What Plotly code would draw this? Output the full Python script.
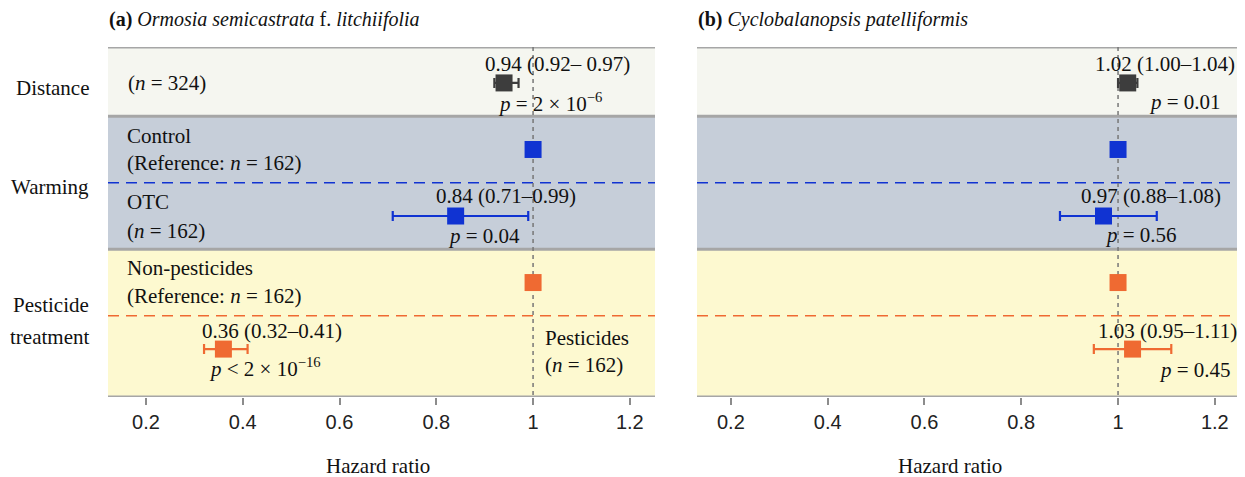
import plotly.graph_objects as go

# ---------------- data ----------------
rows = [1, 2, 3, 4, 5]
groups = ["Distance", "Warming", "Warming", "Pesticide", "Pesticide"]
a_hr = [0.94, 1.00, 0.84, 1.00, 0.36]
a_lo = [0.92, None, 0.71, None, 0.32]
a_hi = [0.97, None, 0.99, None, 0.41]
b_hr = [1.02, 1.00, 0.97, 1.00, 1.03]
b_lo = [1.00, None, 0.88, None, 0.95]
b_hi = [1.04, None, 1.08, None, 1.11]
tick_vals = [0.2, 0.4, 0.6, 0.8, 1.0, 1.2]
tick_text = ["0.2", "0.4", "0.6", "0.8", "1", "1.2"]

SERIF = "Liberation Serif, Times New Roman, serif"
SANS = "Liberation Sans, Arial, sans-serif"
C_DIST = "#3d3d3d"
C_BLUE = "#1033d2"
C_ORNG = "#ef6a32"
group_colors = {"Distance": C_DIST, "Warming": C_BLUE, "Pesticide": C_ORNG}

# page has an 8px body margin: figure occupies the window minus that offset
OFF = 8
W, H = 1245 - OFF, 477 - OFF


def px(x):
    return (x - OFF) / W


def py(y):
    return 1 - (y - OFF) / H


fig = go.Figure()


def add_panel(hr, lo, hi, xa, ya):
    for g, col in group_colors.items():
        idx = [i for i, gg in enumerate(groups) if gg == g]
        xs = [hr[i] for i in idx]
        ys = [rows[i] for i in idx]
        plus = [(hi[i] - hr[i]) if hi[i] is not None else 0 for i in idx]
        minus = [(hr[i] - lo[i]) if lo[i] is not None else 0 for i in idx]
        fig.add_trace(go.Scatter(
            x=xs, y=ys, mode="markers", xaxis=xa, yaxis=ya,
            marker=dict(symbol="square", size=17, color=col, line=dict(width=0)),
            error_x=dict(type="data", symmetric=False, array=plus, arrayminus=minus,
                         color=col, thickness=2.2, width=5, visible=True),
            showlegend=False, hoverinfo="skip"))


add_panel(a_hr, a_lo, a_hi, "x", "y")
add_panel(b_hr, b_lo, b_hi, "x2", "y2")

YR = [5.72, 0.46]
XR_A = [0.1215, 1.252]
XR_B = [0.13, 1.252]

axis_common = dict(tickmode="array", tickvals=tick_vals, ticktext=tick_text,
                   ticks="outside", ticklen=7, tickwidth=1.5, tickcolor="#8c8c8c",
                   showgrid=False, zeroline=False, showline=False,
                   tickfont=dict(family=SANS, size=20, color="#222"))
yaxis_common = dict(range=YR, showticklabels=False, showgrid=False, zeroline=False,
                    showline=False, ticks="")

fig.update_layout(
    width=W, height=H,
    margin=dict(l=0, r=0, t=0, b=0),
    paper_bgcolor="white", plot_bgcolor="white",
    xaxis=dict(domain=[px(108), px(655)], range=XR_A, anchor="y", **axis_common),
    xaxis2=dict(domain=[px(697), px(1240)], range=XR_B, anchor="y2", **axis_common),
    yaxis=dict(domain=[py(397), py(47)], anchor="x", **yaxis_common),
    yaxis2=dict(domain=[py(397), py(47)], anchor="x2", **yaxis_common),
)

shapes = []
bands = [(0.46, 1.5, "#f5f6f0"), (1.5, 3.5, "#c6ced9"), (3.5, 5.72, "#fdf9d0")]
for xr, yr in [("x", "y"), ("x2", "y2")]:
    for y0, y1, c in bands:
        shapes.append(dict(type="rect", xref=f"{xr} domain", yref=yr, x0=0, x1=1,
                           y0=y0, y1=y1, fillcolor=c, line=dict(width=0), layer="below"))
    shapes.append(dict(type="line", xref=f"{xr} domain", yref=yr, x0=0, x1=1, y0=2.5, y1=2.5,
                       line=dict(color=C_BLUE, width=1.5, dash="11px,7px"), layer="below"))
    shapes.append(dict(type="line", xref=f"{xr} domain", yref=yr, x0=0, x1=1, y0=4.5, y1=4.5,
                       line=dict(color=C_ORNG, width=1.5, dash="11px,7px"), layer="below"))
    shapes.append(dict(type="line", xref=xr, yref=yr, x0=1, x1=1, y0=0.46, y1=5.72,
                       line=dict(color="#777777", width=1.5, dash="4px,4px"), layer="below"))
    for yv in [0.46, 1.5, 3.5, 5.72]:
        shapes.append(dict(type="line", xref=f"{xr} domain", yref=yr, x0=0, x1=1, y0=yv, y1=yv,
                           line=dict(color="#a6a6a6", width=3), layer="below"))
fig.update_layout(shapes=shapes)

ann = []
FS = 21


def T(text, x, y, xr="x", yr="y", xanchor="center", size=FS):
    ann.append(dict(text=text, x=x, y=y, xref=xr, yref=yr, xanchor=xanchor, yanchor="middle",
                    showarrow=False, font=dict(family=SERIF, size=size, color="#111")))


# titles
T("<b>(a)</b> <i>Ormosia semicastrata</i> f. <i>litchiifolia</i>", px(107), py(20),
  "paper", "paper", "left", 20)
T("<b>(b)</b> <i>Cyclobalanopsis patelliformis</i>", px(696), py(20),
  "paper", "paper", "left", 20)

# left group labels (right-aligned)
T("Distance", px(91), 1.07, "paper", "y", "right")
T("Warming", px(91), 2.57, "paper", "y", "right")
T("Pesticide", px(91), 4.34, "paper", "y", "right")
T("treatment", px(91), 4.82, "paper", "y", "right")

# panel a
T("(<i>n</i> = 324)", 0.158, 1.0, xanchor="left")
T("0.94 (0.92– 0.97)", 1.051, 0.716)
T("<i>p</i> = 2 × 10<sup>−6</sup>", 1.035, 1.287)
T("Control", 0.1566, 1.798, xanchor="left")
T("(Reference: <i>n</i> = 162)", 0.1566, 2.204, xanchor="left")
T("OTC", 0.1566, 2.79, xanchor="left")
T("(<i>n</i> = 162)", 0.1566, 3.227, xanchor="left")
T("0.84 (0.71–0.99)", 0.944, 2.70)
T("<i>p</i> = 0.04", 0.898, 3.302)
T("Non-pesticides", 0.1566, 3.783, xanchor="left")
T("(Reference: <i>n</i> = 162)", 0.1566, 4.204, xanchor="left")
T("0.36 (0.32–0.41)", 0.460, 4.73)
T("<i>p</i> < 2 × 10<sup>−16</sup>", 0.446, 5.27)
T("Pesticides", 1.020, 4.836, xanchor="left")
T("(<i>n</i> = 162)", 1.020, 5.24, xanchor="left")

# panel b
T("1.02 (1.00–1.04)", 1.245, 0.716, "x2", "y2", "right")
T("<i>p</i> = 0.01", 1.2165, 1.287, "x2", "y2", "right")
T("0.97 (0.88–1.08)", 1.068, 2.70, "x2", "y2")
T("<i>p</i> = 0.56", 1.047, 3.287, "x2", "y2")
T("1.03 (0.95–1.11)", 1.103, 4.73, "x2", "y2")
T("<i>p</i> = 0.45", 1.159, 5.317, "x2", "y2")

# axis titles
T("Hazard ratio", px(378), py(466), "paper", "paper", "center", 21)
T("Hazard ratio", px(950), py(466), "paper", "paper", "center", 21)

fig.update_layout(annotations=ann)
fig.write_html("out.html")
